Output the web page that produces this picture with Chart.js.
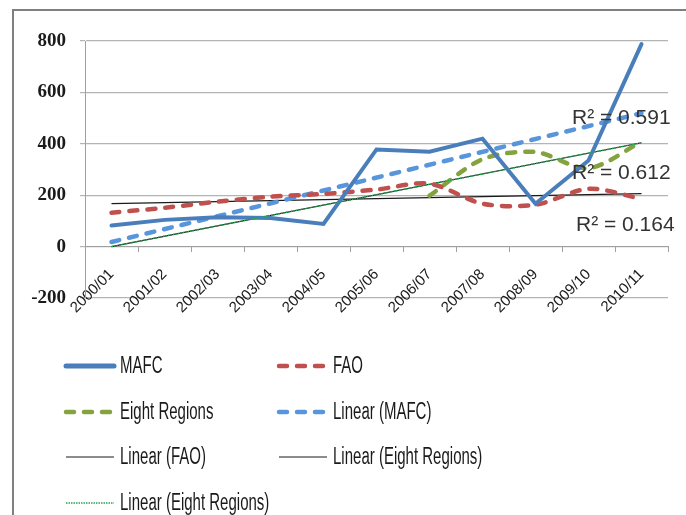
<!DOCTYPE html>
<html>
<head>
<meta charset="utf-8">
<script src="https://cdn.jsdelivr.net/npm/chart.js@4.4.1/dist/chart.umd.min.js"></script>
<style>
  html, body { margin: 0; padding: 0; background: #fff; overflow: hidden; }
  #wrap { position: relative; width: 686px; height: 515px; }
  #frame { position: absolute; left: 12px; top: 9px; width: 720px; height: 540px; border: 2px solid #808080; }
  #cut { position: absolute; left: 14px; top: -15px; font: 17px 'Liberation Sans', sans-serif; color: #222; transform: scaleX(0.85); transform-origin: left; }
  canvas { position: absolute; left: 0; top: 0; }
</style>
</head>
<body>
<div id="wrap">
  <div id="cut">scenario</div>
  <div id="frame"></div>
  <canvas id="chart" width="686" height="515"></canvas>
</div>
<script>
  const categories = ['2000/01', '2001/02', '2002/03', '2003/04', '2004/05', '2005/06',
    '2006/07', '2007/08', '2008/09', '2009/10', '2010/11'];
  const mafc = [82, 104, 114, 111, 88, 378, 369, 420, 167, 335, 788];
  const fao = [132, 151, 175, 194, 205, 222, 245, 167, 163, 225, 186];
  const eightRegions = [null, null, null, null, null, null, 198, 340, 368, 305, 408];
  // trendline end values (first and last category)
  const trendMafc = [18, 519];
  const trendFao = [167, 206];
  const trendEight = [0, 404];
  const r2Texts = ['R\u00b2 = 0.591', 'R\u00b2 = 0.612', 'R\u00b2 = 0.164'];
  const yTicks = [-200, 0, 200, 400, 600, 800];

  const sans = "'Liberation Sans', sans-serif";

  function endsOnly(ends) {
    const arr = categories.map(() => null);
    arr[0] = ends[0];
    arr[arr.length - 1] = ends[1];
    return arr;
  }

  const r2Plugin = {
    id: 'r2Labels',
    afterDatasetsDraw(chart) {
      const { ctx, chartArea, scales } = chart;
      const anchors = [501, 287, 85];
      ctx.save();
      ctx.font = '21px ' + sans;
      ctx.fillStyle = '#333';
      ctx.textBaseline = 'middle';
      r2Texts.forEach((t, i) => {
        ctx.fillText(t, chartArea.right - 96 + (i === 2 ? 4 : 0), scales.y.getPixelForValue(anchors[i]));
      });
      ctx.restore();
    }
  };

  const legendPlugin = {
    id: 'gridLegend',
    afterDraw(chart) {
      const ctx = chart.ctx;
      const cols = [64, 277];
      const rows = [366, 412, 457, 503];
      chart.data.datasets.forEach((ds, i) => {
        const x = cols[i % 2];
        const y = rows[Math.floor(i / 2)];
        ctx.save();
        ctx.strokeStyle = ds.borderColor;
        ctx.lineWidth = ds.legendWidth || ds.borderWidth;
        ctx.lineCap = ds.borderCapStyle || 'butt';
        ctx.setLineDash(ds.borderDash || []);
        ctx.beginPath();
        ctx.moveTo(x + 2, y);
        ctx.lineTo(x + 50, y);
        ctx.stroke();
        ctx.restore();

        ctx.save();
        ctx.fillStyle = '#1a1a1a';
        ctx.font = '19px ' + sans;
        ctx.textBaseline = 'middle';
        ctx.translate(x + 56, y);
        ctx.scale(0.79, 1.3);
        ctx.fillText(ds.label, 0, 0);
        ctx.restore();
      });
    }
  };

  new Chart(document.getElementById('chart'), {
    type: 'line',
    data: {
      labels: categories,
      datasets: [{
        label: 'MAFC',
        data: mafc,
        borderColor: '#4a7ebb',
        borderWidth: 4,
        borderCapStyle: 'round',
        legendWidth: 5,
        tension: 0
      }, {
        label: 'FAO',
        data: fao,
        borderColor: '#c0504d',
        borderWidth: 4.5,
        borderDash: [8, 10],
        borderCapStyle: 'round',
        tension: 0.3
      }, {
        label: 'Eight Regions',
        data: eightRegions,
        borderColor: '#84a33e',
        borderWidth: 4.5,
        borderDash: [8, 10],
        borderCapStyle: 'round',
        tension: 0.3
      }, {
        label: 'Linear (MAFC)',
        data: endsOnly(trendMafc),
        borderColor: '#5895da',
        borderWidth: 4.5,
        borderDash: [8, 10],
        borderCapStyle: 'round',
        spanGaps: true
      }, {
        label: 'Linear (FAO)',
        data: endsOnly(trendFao),
        borderColor: '#1a1a1a',
        borderWidth: 1.2,
        spanGaps: true
      }, {
        label: 'Linear (Eight Regions)',
        data: endsOnly(trendEight),
        borderColor: '#1a1a1a',
        borderWidth: 1.2,
        spanGaps: true
      }, {
        label: 'Linear (Eight Regions)',
        data: endsOnly(trendEight),
        borderColor: '#1fa84f',
        borderWidth: 1.4,
        borderDash: [1.5, 1],
        spanGaps: true,
        order: -1
      }]
    },
    options: {
      responsive: false,
      animation: false,
      elements: { point: { radius: 0, hoverRadius: 0 } },
      layout: { padding: { top: 41, right: 18, bottom: 217, left: 0 } },
      plugins: { legend: { display: false }, tooltip: { enabled: false } },
      scales: {
        x: {
          position: { y: 0 },
          offset: true,
          grid: { offset: true, drawOnChartArea: false, tickLength: 5, color: '#a0a0a0' },
          border: { display: true, color: '#a0a0a0' },
          ticks: {
            autoSkip: false,
            minRotation: 45,
            maxRotation: 45,
            padding: 14,
            color: '#1a1a1a',
            font: { family: sans, size: 15 }
          }
        },
        y: {
          min: -200,
          max: 800,
          afterBuildTicks: (scale) => { scale.ticks = yTicks.map(v => ({ value: v })); },
          afterFit: (scale) => { scale.width = 85; },
          grid: { color: '#b4b4b4', tickLength: 5, lineWidth: 1.2 },
          border: { color: '#a0a0a0' },
          ticks: {
            padding: 14,
            color: '#1a1a1a',
            font: { family: "'Liberation Serif', serif", size: 19, weight: 'bold' }
          }
        }
      }
    },
    plugins: [r2Plugin, legendPlugin]
  });
</script>
</body>
</html>
